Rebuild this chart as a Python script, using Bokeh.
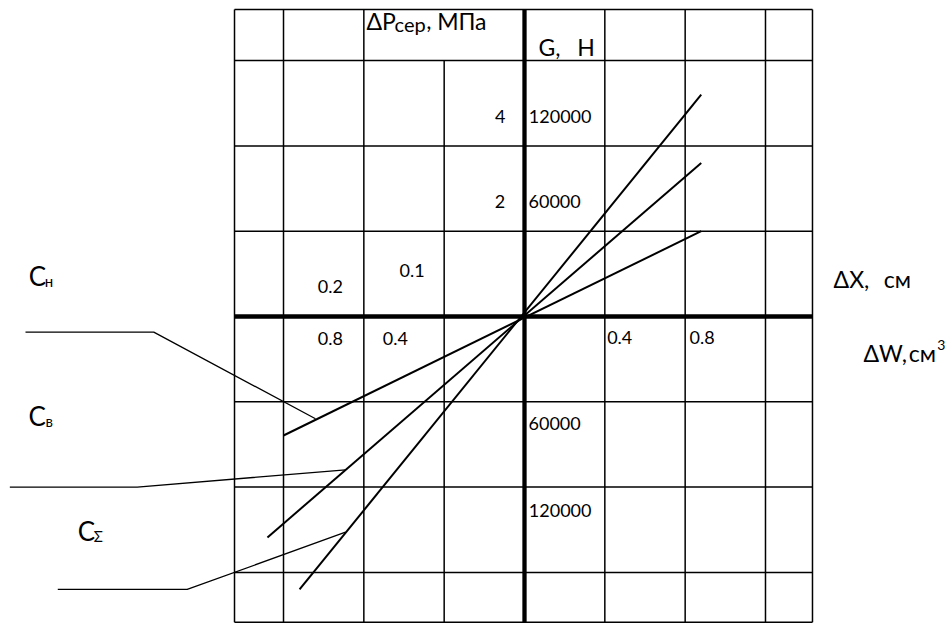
from bokeh.plotting import figure
from bokeh.models import Range1d
from bokeh.embed import file_html
from bokeh.resources import INLINE
from bokeh.core.properties import value

# ---- data (cell units: one grid cell = 1) ----
grid_x = [-3.61, -3, -2, -1, 0, 1, 2, 3, 3.585]
grid_y = [3.6, 3, 2, 1, 0, -1, -2, -3, -3.585]
header_row_bottom = 3.0

# characteristic lines (lower end, upper end)
line_x0 = [-2.80, -3.20, -3.00]
line_y0 = [-3.20, -2.59, -1.395]
line_x1 = [2.20, 2.20, 2.20]
line_y1 = [2.60, 1.80, 1.00]

# leader polylines for labels C_n, C_v, C_Sigma
leader_xs = [[-6.212, -4.615, -2.602], [-6.407, -4.821, -2.228], [-5.810, -4.199, -2.228]]
leader_ys = [[-0.184, -0.184, -1.199], [-2.001, -2.001, -1.797], [-3.200, -3.200, -2.529]]

# tick labels
num_text = ["120000", "60000", "60000", "120000", "0.2", "0.1", "0.8", "0.4", "0.4", "0.8"]
num_x = [0.054, 0.050, 0.050, 0.054, -2.573, -1.556, -2.573, -1.764, 1.029, 2.054]
num_y = [2.26, 1.263, -1.345, -2.36, 0.258, 0.449, -0.348, -0.348, -0.34, -0.34]
rnum_text = ["4", "2"]
rnum_x = [-0.237, -0.24]
rnum_y = [2.26, 1.263]

# axis titles (main size pieces)
title_text = ["\u0394P", ",", "\u041c\u041f\u0430", "G,", "\u041d",
              "\u0394X,", "\u0441\u043c", "\u0394W,", "\u0441\u043c"]
title_x = [-1.967, -1.222, -1.087, 0.174, 0.656, 3.847, 4.473, 4.220, 4.784]
title_y = [3.353, 3.353, 3.353, 3.048, 3.048, 0.325, 0.325, -0.547, -0.547]
# smaller pieces (subscript / superscript)
small_text = ["\u0441\u0435\u0440", "3"]
small_x = [-1.618, 5.137]
small_y = [3.33, -0.399]

# curve labels
c_text = ["C", "C", "C"]
c_x = [-6.171, -6.175, -5.561]
c_y = [0.352, -1.298, -2.646]
csub_text = ["\u043d", "\u0432", "\u03a3"]
csub_x = [-5.972, -5.963, -5.362]
csub_y = [0.34, -1.30, -2.646]

# ---- figure ----
p = figure(width=946, height=623, x_range=Range1d(-6.5231, 5.2533),
           y_range=Range1d(-3.5991, 3.7046), x_axis_type=None, y_axis_type=None,
           output_backend="svg", toolbar_location=None, min_border=0)
p.grid.visible = False
p.outline_line_color = None
p.background_fill_color = "white"
p.border_fill_color = "white"

FONT = value("Lato")
SHIFT = -0.42  # baseline correction, in em


def txt(xs, ys, texts, size, align="left"):
    p.text(xs, ys, text=texts, text_font=FONT, text_font_size=f"{size}px",
           text_baseline="alphabetic", text_align=align, text_color="black",
           y_offset=SHIFT * size)


# grid lines
vx0, vy0, vx1, vy1 = [], [], [], []
for gx in grid_x:
    if gx == 0:
        continue
    top = header_row_bottom if gx == -1 else grid_y[0]
    vx0.append(gx); vx1.append(gx); vy0.append(grid_y[-1]); vy1.append(top)
hx0, hy0, hx1, hy1 = [], [], [], []
for gy in grid_y:
    if gy == 0:
        continue
    hx0.append(grid_x[0]); hx1.append(grid_x[-1]); hy0.append(gy); hy1.append(gy)
p.segment(vx0, vy0, vx1, vy1, line_color="black", line_width=1.5)
p.segment(hx0, hy0, hx1, hy1, line_color="black", line_width=1.5)
# thick axes
p.segment([0, grid_x[0]], [grid_y[-1], 0], [0, grid_x[-1]], [grid_y[0], 0],
          line_color="black", line_width=4.3)

# characteristic lines
p.segment(line_x0, line_y0, line_x1, line_y1, line_color="black", line_width=2)
# leaders
p.multi_line(leader_xs, leader_ys, line_color="black", line_width=1.3)

# texts
txt(num_x, num_y, num_text, 18)
txt(rnum_x, rnum_y, rnum_text, 18, align="right")
txt(title_x, title_y, title_text, 23)
txt(small_x[:1], small_y[:1], small_text[:1], 20)
txt(small_x[1:], small_y[1:], small_text[1:], 14)
txt(c_x, c_y, c_text, 26)
txt(csub_x, csub_y, csub_text, 15)

open("out.html", "w").write(file_html(p, INLINE))
